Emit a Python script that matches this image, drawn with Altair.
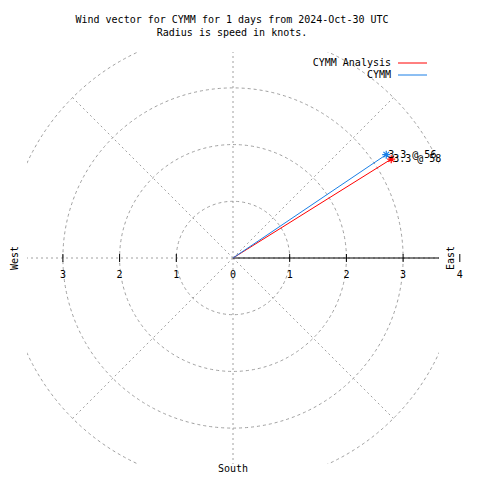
import altair as alt
import pandas as pd

# ---- data ----
series = ["CYMM Analysis", "CYMM"]
speeds = [3.29, 3.26]          # knots (labelled 3.3)
directions = [58, 56]          # degrees clockwise from north
colors = ["#ff0000", "#1a7fe6"]

rings = [1, 2, 3, 4]
spoke_angles = [0, 45, 90, 135, 180, 225, 270, 315]
tick_vals = [-3, -2, -1, 1, 2, 3, 4]
tick_label_vals = [-3, -2, -1, 0, 1, 2, 3, 4]
tick_labels = ["3", "2", "1", "0", "1", "2", "3", "4"]
title_lines = ["Wind vector for CYMM for 1 days from 2024-Oct-30 UTC",
               "Radius is speed in knots."]

FONT = "DejaVu Sans Mono"
FS = 10
GRID = "#a0a0a0"
R = 3.633
W = 412

xs = alt.Scale(domain=[-R, R], nice=False, zero=False)
ys = alt.Scale(domain=[-R, R], nice=False, zero=False)

# rings: circle symbols whose diameter follows the same unit as the x/y scales
ring_df = pd.DataFrame({"r": rings, "c": [0] * len(rings)})
rings_layer = alt.Chart(ring_df).mark_point(
    shape="circle", filled=False, stroke=GRID, strokeWidth=1, strokeDash=[3, 3],
    opacity=1, clip=True
).encode(
    x=alt.X("c:Q", scale=xs, axis=None),
    y=alt.Y("c:Q", scale=ys, axis=None),
    size=alt.Size("r:Q", scale=alt.Scale(type="pow", exponent=2, domain=[0, R], range=[0, W * W], zero=True, nice=False), legend=None),
)

# spokes
spoke_df = pd.DataFrame({"a": spoke_angles})
spokes_layer = alt.Chart(spoke_df).transform_calculate(
    x0="0", y0="0",
    x1="4*cos(datum.a*PI/180)", y1="4*sin(datum.a*PI/180)",
).mark_rule(stroke=GRID, strokeWidth=1, strokeDash=[2, 3], clip=True).encode(
    x=alt.X("x0:Q", scale=xs, axis=None),
    y=alt.Y("y0:Q", scale=ys, axis=None),
    x2="x1:Q", y2="y1:Q",
)

# east axis line
axis_df = pd.DataFrame({"x0": [0], "x1": [R], "y0": [0]})
axis_layer = alt.Chart(axis_df).mark_rule(color="black", strokeWidth=1).encode(
    x=alt.X("x0:Q", scale=xs, axis=None),
    x2="x1:Q",
    y=alt.Y("y0:Q", scale=ys, axis=None),
)

# ticks
tick_df = pd.DataFrame({"t": tick_vals})
ticks_layer = alt.Chart(tick_df).mark_rule(color="black", strokeWidth=1).encode(
    x=alt.X("t:Q", scale=xs, axis=None),
    y=alt.value(202), y2=alt.value(210),
)

tl_df = pd.DataFrame({"t": tick_label_vals, "lab": tick_labels})
tick_text = alt.Chart(tl_df).mark_text(font=FONT, fontSize=FS, color="black", baseline="middle", align="center").encode(
    x=alt.X("t:Q", scale=xs, axis=None),
    y=alt.value(223),
    text="lab:N",
)

# vectors
vec_df = pd.DataFrame({"series": series, "speed": speeds, "dir": directions})
base = alt.Chart(vec_df).transform_calculate(
    x0="0", y0="0",
    x="datum.speed*sin(datum.dir*PI/180)",
    y="datum.speed*cos(datum.dir*PI/180)",
    label="format(datum.speed, '.1f') + ' @ ' + datum.dir",
)
cscale = alt.Scale(domain=series, range=colors)
vec_lines = base.mark_rule(strokeWidth=1).encode(
    x=alt.X("x0:Q", scale=xs, axis=None),
    y=alt.Y("y0:Q", scale=ys, axis=None),
    x2="x:Q", y2="y:Q",
    color=alt.Color("series:N", scale=cscale, legend=None),
)
star = "M-1,0L1,0M0,-1L0,1M-0.7,-0.7L0.7,0.7M-0.7,0.7L0.7,-0.7"
vec_pts = base.mark_point(shape=star, filled=False, size=64, strokeWidth=1.2, opacity=1).encode(
    x=alt.X("x:Q", scale=xs, axis=None),
    y=alt.Y("y:Q", scale=ys, axis=None),
    color=alt.Color("series:N", scale=cscale, legend=None),
)
vec_text = base.mark_text(font=FONT, fontSize=FS, color="black", align="left", baseline="middle", dx=2).encode(
    x=alt.X("x:Q", scale=xs, axis=None),
    y=alt.Y("y:Q", scale=ys, axis=None),
    text="label:N",
)

# compass labels
west = alt.Chart(pd.DataFrame({"t": ["West"]})).mark_text(font=FONT, fontSize=FS, angle=270, baseline="middle", align="center").encode(
    x=alt.value(-12), y=alt.value(206), text="t:N")
east = alt.Chart(pd.DataFrame({"t": ["East"]})).mark_text(font=FONT, fontSize=FS, angle=270, baseline="middle", align="center").encode(
    x=alt.value(424), y=alt.value(206), text="t:N")
south = alt.Chart(pd.DataFrame({"t": ["South"]})).mark_text(font=FONT, fontSize=FS, baseline="middle", align="center").encode(
    x=alt.value(206), y=alt.value(417), text="t:N")

# title
title_layers = []
for i, line in enumerate(title_lines):
    title_layers.append(
        alt.Chart(pd.DataFrame({"t": [line]})).mark_text(font=FONT, fontSize=FS, baseline="middle", align="center").encode(
            x=alt.value(205), y=alt.value(-32 + 13 * i), text="t:N")
    )

# legend
legend_layers = []
for i, (name, col) in enumerate(zip(series, colors)):
    ldf = pd.DataFrame({"t": [name]})
    legend_layers.append(
        alt.Chart(ldf).mark_text(font=FONT, fontSize=FS, baseline="middle", align="right").encode(
            x=alt.value(364), y=alt.value(11 + 12 * i), text="t:N")
    )
    legend_layers.append(
        alt.Chart(ldf).mark_rule(color=col, strokeWidth=1).encode(
            x=alt.value(371), x2=alt.value(400), y=alt.value(11 + 12 * i))
    )

chart = alt.layer(
    rings_layer, spokes_layer, axis_layer, ticks_layer, tick_text,
    vec_lines, vec_pts, vec_text, west, east, south,
    *title_layers, *legend_layers,
).resolve_scale(size="independent").properties(
    width=W, height=W,
    autosize=alt.AutoSizeParams(type="none"),
    padding={"left": 19, "top": 44, "right": 30, "bottom": 12},
).configure_view(stroke=None)

chart.save("out.html", embed_options={"renderer": "svg", "actions": False})
